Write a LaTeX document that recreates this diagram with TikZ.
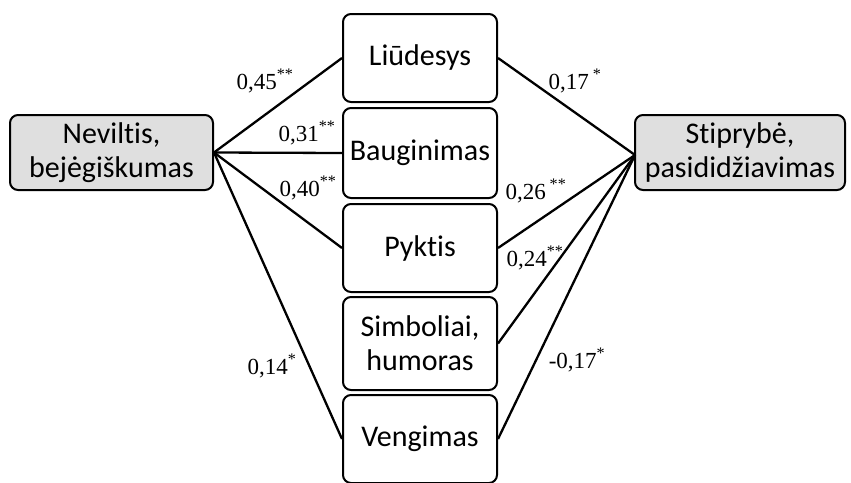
\documentclass[tikz,border=0pt]{standalone}
\usepackage{fontspec}
\setmainfont{Liberation Serif}
\newfontfamily\boxfont[Ligatures={NoCommon,NoContextual}]{Carlito}
% break the t-i ligature of the box font
\newcommand\tisep{\kern0pt\relax}
\begin{document}
\begin{tikzpicture}[x=1pt,y=-1pt,
  box/.style={draw=black, line width=2pt, rounded corners=8pt, inner sep=0pt,
    align=center, font=\boxfont\fontsize{30}{34}\selectfont},
  outer/.style={box, fill=gray!25, minimum height=75pt},
  mid/.style={box, fill=white, minimum width=154pt, minimum height=88pt},
  path/.style={line width=2.3pt, draw=black},
  coef/.style={font=\fontsize{23}{25}\selectfont, inner sep=0pt}]
\useasboundingbox (0,0) rectangle (851,482);

% outer constructs
\node[outer, minimum width=203pt] (nev) at (111.5,152.5) {Nevilt\tisep is,\\bejėgiškumas};
\node[outer, minimum width=210pt] (sti) at (740,152.5) {St\tisep iprybė,\\pasididžiavimas};

% coping styles
\node[mid] (liu) at (420,58)  {Liūdesys};
\node[mid, minimum height=90pt] (bau) at (420,153) {Bauginimas};
\node[mid] (pyk) at (420,248) {Pykt\tisep is};
\node[mid, minimum height=93pt] (sim) at (420,343.5) {Simboliai,\\humoras};
\node[mid] (ven) at (420,439) {Vengimas};

% paths from the left construct
\draw[path] (nev.east) -- (liu.west);
\draw[path] (nev.east) -- (bau.west);
\draw[path] (nev.east) -- (pyk.west);
\draw[path] (nev.east) -- (ven.west);

% paths to the right construct
\coordinate (in) at (635,155);
\draw[path] (liu.east) -- (in);
\draw[path] (pyk.east) -- (in);
\draw[path] (sim.east) -- (in);
\draw[path] (ven.east) -- (in);

% path coefficients
\node[coef] (c1) at (265,81)  {0,45\textsuperscript{**}};
\node[coef] (c2) at (307,133) {0,31\textsuperscript{**}};
\node[coef] (c3) at (308,188) {0,40\textsuperscript{**}};
\node[coef] (c4) at (272,366) {0,14\textsuperscript{*}};
\node[coef] (c5) at (575,81)  {0,17\,\textsuperscript{*}};
\node[coef] (c6) at (536,191) {0,26\,\textsuperscript{**}};
\node[coef] (c7) at (535,258) {0,24\textsuperscript{**}};
\node[coef] (c8) at (577,360) {-0,17\textsuperscript{*}};
\end{tikzpicture}
\end{document}
